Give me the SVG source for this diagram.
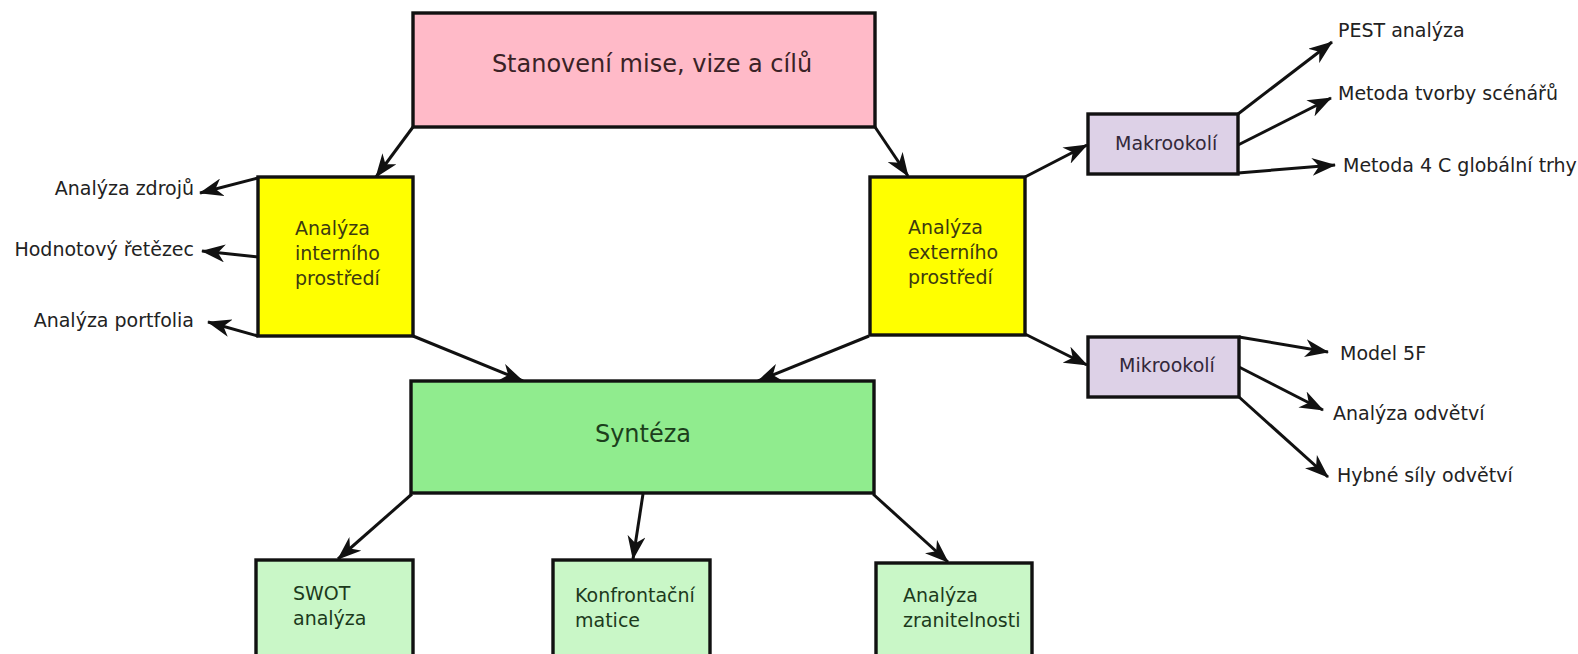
<svg xmlns="http://www.w3.org/2000/svg" width="1578" height="654" viewBox="0 0 1578 654">
  <style>
    text { font-family: "DejaVu Sans", "Liberation Sans", sans-serif; font-size: 19px; fill: #222; }
    .box { stroke: #111; stroke-width: 3.4; }
    .title { font-size: 24px; }
    .pink { fill: #FFBAC8; }
    .yellow { fill: #FFFF00; }
    .lav { fill: #DDD1E7; }
    .green { fill: #90EC8E; }
    .pale { fill: #C9F7C7; }
    .conn line { stroke: #111; stroke-width: 3; marker-end: url(#arrow); }
  </style>
  <defs>
    <marker id="arrow" viewBox="0 0 24 18" refX="23" refY="9" markerWidth="24" markerHeight="18" markerUnits="userSpaceOnUse" orient="auto">
      <path d="M0,0 L24,9 L0,18 L7,9 Z" fill="#111"/>
    </marker>
  </defs>
  <rect width="1578" height="654" fill="#fff"/>

  <!-- connectors -->
  <g class="conn">
    <line x1="413" y1="127" x2="376" y2="177"/>
    <line x1="875" y1="127" x2="908" y2="176"/>
    <line x1="258" y1="178" x2="200" y2="193"/>
    <line x1="258" y1="257" x2="202" y2="251"/>
    <line x1="258" y1="336" x2="208" y2="322"/>
    <line x1="1025" y1="177" x2="1087" y2="145"/>
    <line x1="1025" y1="334" x2="1087" y2="365"/>
    <line x1="1238" y1="114" x2="1332" y2="42"/>
    <line x1="1238" y1="145" x2="1331" y2="98"/>
    <line x1="1238" y1="173" x2="1335" y2="165"/>
    <line x1="1239" y1="337" x2="1328" y2="352"/>
    <line x1="1239" y1="367" x2="1323" y2="410"/>
    <line x1="1239" y1="397" x2="1328" y2="477"/>
    <line x1="413" y1="336" x2="523" y2="381"/>
    <line x1="869" y1="336" x2="758" y2="381"/>
    <line x1="412" y1="494" x2="338" y2="559"/>
    <line x1="643" y1="494" x2="633" y2="559"/>
    <line x1="873" y1="494" x2="948" y2="562"/>
  </g>

  <!-- nodes -->
  <g id="mise">
    <rect class="box pink" x="413" y="13" width="462" height="114"/>
    <text class="title" x="652" y="72" text-anchor="middle" style="fill:#3a2226">Stanovení mise, vize a cílů</text>
  </g>
  <g id="interni">
    <rect class="box yellow" x="258" y="177" width="155" height="159"/>
    <text x="295" y="235" style="fill:#3d3a10">Analýza</text>
    <text x="295" y="260" style="fill:#3d3a10">interního</text>
    <text x="295" y="285" style="fill:#3d3a10">prostředí</text>
  </g>
  <g id="externi">
    <rect class="box yellow" x="870" y="177" width="155" height="158"/>
    <text x="908" y="234" style="fill:#3d3a10">Analýza</text>
    <text x="908" y="259" style="fill:#3d3a10">externího</text>
    <text x="908" y="284" style="fill:#3d3a10">prostředí</text>
  </g>
  <g id="zdroje"><text x="194" y="195" text-anchor="end">Analýza zdrojů</text></g>
  <g id="retezec"><text x="194" y="256" text-anchor="end">Hodnotový řetězec</text></g>
  <g id="portfolio"><text x="194" y="327" text-anchor="end">Analýza portfolia</text></g>
  <g id="makro">
    <rect class="box lav" x="1088" y="114" width="150" height="60"/>
    <text x="1115" y="150" style="fill:#33283a">Makrookolí</text>
  </g>
  <g id="mikro">
    <rect class="box lav" x="1088" y="337" width="151" height="60"/>
    <text x="1119" y="372" style="fill:#33283a">Mikrookolí</text>
  </g>
  <g id="pest"><text x="1338" y="37">PEST analýza</text></g>
  <g id="scenare"><text x="1338" y="100">Metoda tvorby scénářů</text></g>
  <g id="metoda4c"><text x="1343" y="172">Metoda 4 C globální trhy</text></g>
  <g id="model5f"><text x="1340" y="360">Model 5F</text></g>
  <g id="odvetvi"><text x="1333" y="420">Analýza odvětví</text></g>
  <g id="hybne"><text x="1337" y="482">Hybné síly odvětví</text></g>
  <g id="synteza">
    <rect class="box green" x="411" y="381" width="463" height="112"/>
    <text class="title" x="643" y="442" text-anchor="middle" style="fill:#1c3f1c">Syntéza</text>
  </g>
  <g id="swot">
    <rect class="box pale" x="256" y="560" width="157" height="110"/>
    <text x="293" y="600" style="fill:#1c3a1c">SWOT</text>
    <text x="293" y="625" style="fill:#1c3a1c">analýza</text>
  </g>
  <g id="matice">
    <rect class="box pale" x="553" y="560" width="157" height="110"/>
    <text x="575" y="602" style="fill:#1c3a1c">Konfrontační</text>
    <text x="575" y="627" style="fill:#1c3a1c">matice</text>
  </g>
  <g id="zranitelnost">
    <rect class="box pale" x="876" y="563" width="156" height="110"/>
    <text x="903" y="602" style="fill:#1c3a1c">Analýza</text>
    <text x="903" y="627" style="fill:#1c3a1c">zranitelnosti</text>
  </g>
</svg>
